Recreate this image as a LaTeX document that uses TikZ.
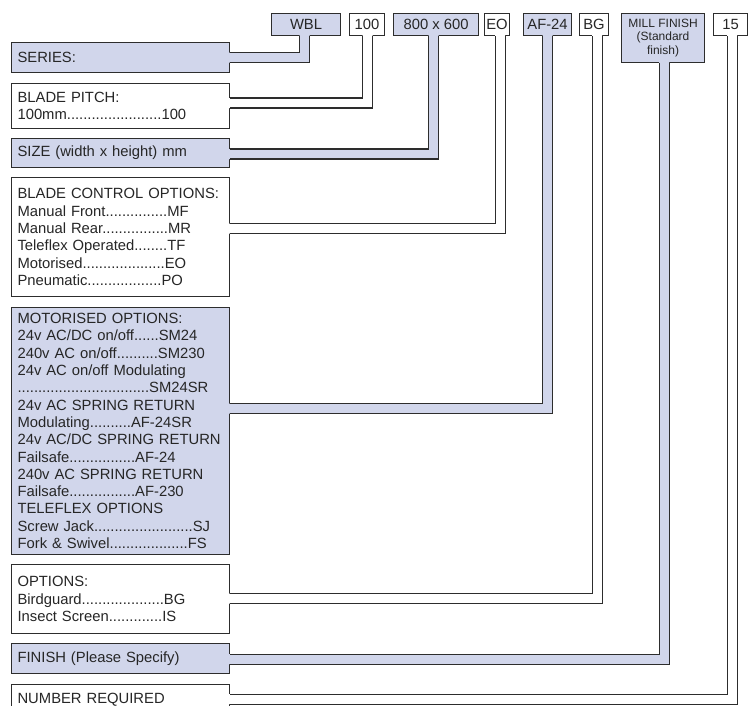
\documentclass[tikz,border=0pt]{standalone}
\usepackage{fontspec}
\setmainfont{Liberation Sans}
\usetikzlibrary{calc}

\definecolor{formblue}{RGB}{209,214,235}
\definecolor{formline}{RGB}{45,45,45}

\newcommand{\linkbox}[5]{%
  \coordinate (t) at ([xshift=#3pt]#2.south);
  \coordinate (l) at ([yshift=#5pt]#4.east);
  \fill [#1] ([xshift=-5pt,yshift=1pt]t) -- ([xshift=5pt,yshift=1pt]t) |- ([xshift=-1pt,yshift=-5pt]l) -- ([xshift=-1pt,yshift=5pt]l) -| ([xshift=-5pt,yshift=1pt]t) -- cycle;
  \draw [wire] ([xshift=-5pt]t) |- ([yshift=5pt]l);
  \draw [wire] ([xshift=5pt]t) |- ([yshift=-5pt]l);
}

\begin{document}
\begin{tikzpicture}[x=1pt,y=-1pt,
  field/.style={draw=formline, line width=1.1pt, anchor=north west, inner xsep=6pt, inner ysep=0pt, text width=206pt, align=left, text=black!85, font=\fontsize{14.8}{17.3}\selectfont},
  code/.style={draw=formline, line width=1.1pt, anchor=north west, inner sep=0pt, align=center, minimum height=22pt, text=black!85, font=\fontsize{14.8}{17.3}\selectfont},
  tint/.style={fill=formblue},
  plain/.style={fill=white},
  wire/.style={draw=formline, line width=1.1pt}]
\useasboundingbox (0,0) rectangle (755,706);
\clip (0,0) rectangle (755,706);
\node [field, tint, minimum height=30pt] (series) at (11,42) {SERIES:};
\node [field, plain, minimum height=45pt] (pitch) at (11,83) {BLADE PITCH:\\100mm.......................100};
\node [field, tint, minimum height=29pt] (size) at (11,138) {SIZE (width x height) mm};
\node [field, plain, minimum height=119pt] (control) at (11,177) {BLADE CONTROL OPTIONS:\\Manual Front...............MF\\Manual Rear................MR\\Teleflex Operated........TF\\Motorised....................EO\\Pneumatic..................PO};
\node [field, tint, minimum height=247pt] (motor) at (11,307) {MOTORISED OPTIONS:\\24v AC/DC on/off......SM24\\240v AC on/off..........SM230\\24v AC on/off Modulating\\................................SM24SR\\24v AC SPRING RETURN\\Modulating..........AF-24SR\\24v AC/DC SPRING RETURN\\Failsafe................AF-24\\240v AC SPRING RETURN\\Failsafe................AF-230\\TELEFLEX OPTIONS\\Screw Jack........................SJ\\Fork \& Swivel...................FS};
\node [field, plain, minimum height=69pt] (options) at (11,564) {OPTIONS:\\Birdguard....................BG\\Insect Screen.............IS};
\node [field, tint, minimum height=30pt] (finish) at (11,643) {FINISH (Please Specify)};
\node [field, plain, minimum height=30pt] (number) at (11,684) {NUMBER REQUIRED};

\node [code, tint, minimum width=69pt] (wbl) at (271,13) {WBL};
\node [code, plain, minimum width=35pt] (pitchcode) at (349,13) {100};
\node [code, tint, minimum width=85pt] (sizecode) at (393,13) {800 x 600};
\node [code, plain, minimum width=25pt] (controlcode) at (484,13) {EO};
\node [code, tint, minimum width=48pt] (motorcode) at (523,13) {AF-24};
\node [code, plain, minimum width=29pt] (optionscode) at (579,13) {BG};
\node [code, tint, minimum width=83pt, minimum height=49pt, font=\fontsize{12}{13.5}\selectfont] (finishcode) at (621,13) {MILL FINISH\\(Standard\\finish)};
\node [code, plain, minimum width=34pt] (numbercode) at (713,13) {15};

\linkbox{formblue}{wbl}{-1.5}{series}{0}
\linkbox{white}{pitchcode}{0.5}{pitch}{3}
\linkbox{formblue}{sizecode}{-2.5}{size}{-1}
\linkbox{white}{controlcode}{3}{control}{8.5}
\linkbox{formblue}{motorcode}{0}{motor}{22.5}
\linkbox{white}{optionscode}{3}{options}{0.5}
\linkbox{formblue}{finishcode}{1}{finish}{-0.5}
\linkbox{white}{numbercode}{1.5}{number}{0.5}
\end{tikzpicture}
\end{document}
